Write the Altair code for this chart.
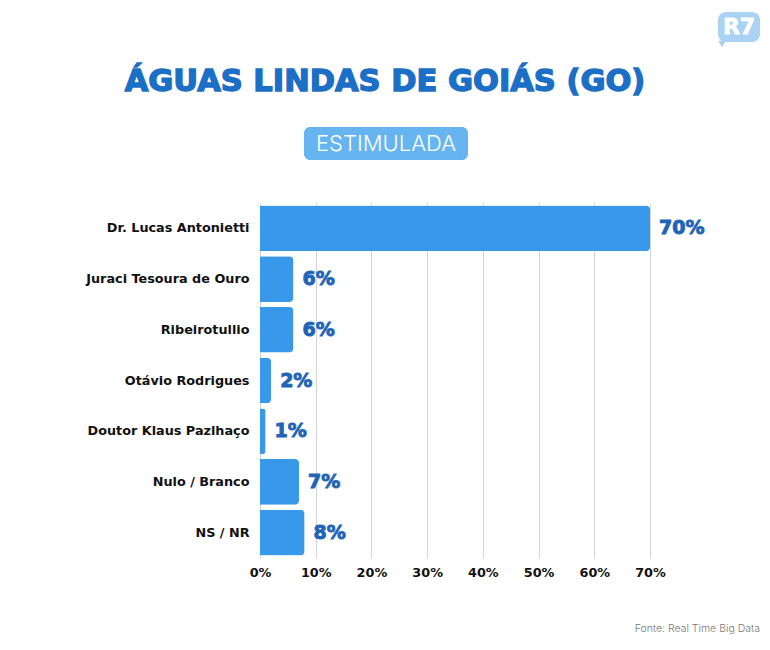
import altair as alt
import pandas as pd

candidates = ["Dr. Lucas Antonietti", "Juraci Tesoura de Ouro", "Ribeirotullio",
              "Otávio Rodrigues", "Doutor Klaus Pazlhaço", "Nulo / Branco", "NS / NR"]
values = [70, 6, 6, 2, 1, 7, 8]
labels = ["70%", "6%", "6%", "2%", "1%", "7%", "8%"]
x_ticks = [0, 10, 20, 30, 40, 50, 60, 70]

title_text = "ÁGUAS LINDAS DE GOIÁS (GO)"
subtitle_text = "ESTIMULADA"
source_text = "Fonte: Real Time Big Data"
logo_text = "R7"

df = pd.DataFrame({"cand": candidates, "val": values, "lab": labels})

FONT = "DejaVu Sans"
LIGHT = "Inter"
BAR = "#3898e9"
DARK = "#1f64b6"

y_enc = alt.Y("cand:N", sort=candidates, title=None,
              scale=alt.Scale(paddingInner=0.1, paddingOuter=0.05),
              axis=alt.Axis(domain=False, ticks=False, labelPadding=11,
                            labelFont=FONT, labelFontSize=12.8, labelFontWeight="bold",
                            labelColor="#111111"))
x_enc = alt.X("val:Q", title=None,
              scale=alt.Scale(domain=[0, 70], nice=False),
              axis=alt.Axis(values=x_ticks, domain=False, ticks=False, labelPadding=8,
                            labelFlush=False,
                            labelExpr="datum.value + '%'", grid=True,
                            gridColor="#d4d4d4", gridWidth=1,
                            labelFont=FONT, labelFontSize=12.8, labelFontWeight="bold",
                            labelColor="#111111"))

base = alt.Chart(df)
bars = base.mark_bar(color=BAR, cornerRadiusEnd=4).encode(x=x_enc, y=y_enc)
vals = base.mark_text(align="left", baseline="middle", dx=9, font=FONT,
                      fontSize=19, fontWeight="bold", color=DARK,
                      stroke=DARK, strokeWidth=0.9).encode(
    x="val:Q", y=alt.Y("cand:N", sort=candidates), text="lab:N")

one = pd.DataFrame({"a": [0]})
deco = alt.Chart(one)
title = deco.mark_text(font=FONT, fontSize=30.5, fontWeight="bold", color="#1c6fc6",
                       stroke="#1c6fc6", strokeWidth=1.4,
                       align="center", baseline="middle").encode(
    x=alt.value(125), y=alt.value(-121), text=alt.value(title_text))
box = deco.mark_rect(color="#66b5f0", cornerRadius=6).encode(
    x=alt.value(44), x2=alt.value(208), y=alt.value(-76), y2=alt.value(-43))
sub = deco.mark_text(font=LIGHT, fontSize=22, fontWeight=300, color="white",
                     align="center", baseline="middle").encode(
    x=alt.value(126), y=alt.value(-59), text=alt.value(subtitle_text))
src = deco.mark_text(font=LIGHT, fontSize=10.5, fontWeight=300, color="#777777",
                     align="right", baseline="middle").encode(
    x=alt.value(500), y=alt.value(426), text=alt.value(source_text))
logo = deco.mark_rect(color="#a9d2f3", cornerRadius=8).encode(
    x=alt.value(458), x2=alt.value(500), y=alt.value(-191), y2=alt.value(-161))
logo_tail = deco.mark_point(shape="triangle-down", filled=True, color="#a9d2f3",
                            size=60, opacity=1).encode(
    x=alt.value(462), y=alt.value(-159))
logo_t = deco.mark_text(font=FONT, fontSize=22, fontWeight="bold", color="white",
                        stroke="white", strokeWidth=0.8,
                        align="center", baseline="middle").encode(
    x=alt.value(479), y=alt.value(-176), text=alt.value(logo_text))

chart = alt.layer(bars, vals, title, box, sub, src, logo, logo_tail, logo_t).properties(
    width=390, height=355,
    autosize=alt.AutoSizeParams(type="none"),
    padding={"left": 252, "top": 195, "right": 112, "bottom": 84},
    background="white",
).configure_view(stroke=None)

chart.save("out.html", embed_options={"renderer": "svg", "actions": False})
